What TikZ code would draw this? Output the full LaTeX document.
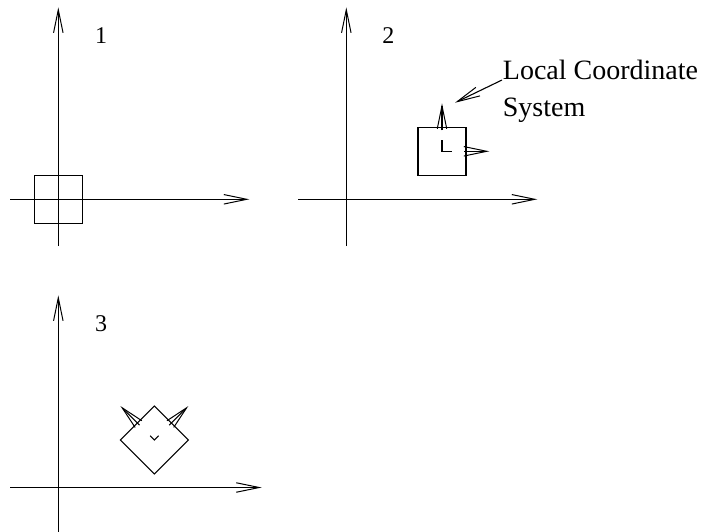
\documentclass[tikz,border=0pt]{standalone}
\usepackage{fontspec}
\setmainfont{Liberation Serif}
\usetikzlibrary{arrows.meta}
\tikzset{
  ln/.style={line width=1.1pt, draw=black},
  arr/.style={ln, -{Straight Barb[length=23pt,width=9.5pt,line width=1pt]}},
  numlbl/.style={font=\fontsize{24}{28}\selectfont, inner sep=0pt, anchor=base},
  notelbl/.style={font=\fontsize{28}{33}\selectfont, inner sep=0pt, anchor=base west},
}
\begin{document}
\begin{tikzpicture}[x=1pt,y=-1pt]
\useasboundingbox (0,0) rectangle (707,531);
% ---------- panel 1 ----------
\coordinate (h1a) at (10,199.3);  \coordinate (h1b) at (249.3,199.3);
\coordinate (v1a) at (58.3,246);  \coordinate (v1b) at (58.3,7.3);
\draw[arr] (h1a) -- (h1b);
\draw[arr] (v1a) -- (v1b);
\draw[ln] (34.2,175.3) rectangle (82.2,223.3);
\node[numlbl] (n1) at (101,43) {1};
% ---------- panel 2 ----------
\coordinate (h2a) at (298,199.3);  \coordinate (h2b) at (537.3,199.3);
\coordinate (v2a) at (346.3,246);  \coordinate (v2b) at (346.3,7.3);
\draw[arr] (h2a) -- (h2b);
\draw[arr] (v2a) -- (v2b);
\node[numlbl] (n2) at (388.3,43.3) {2};
\begin{scope}[shift={(442,151.3)}]
  \draw[ln] (-24,-24) rectangle (24,24);
  \draw[ln] (0,-11) -- (0,0) -- (10,0);
  \coordinate (u2a) at (0,-21); \coordinate (u2b) at (0,-48);
  \coordinate (r2a) at (22,0);  \coordinate (r2b) at (47.3,0);
  \draw[arr] (u2a) -- (u2b);
  \draw[arr] (r2a) -- (r2b);
\end{scope}
\node[notelbl] (lc) at (502.7,79.3) {Local Coordinate};
\node[notelbl] (sys) at (502.7,116) {System};
\coordinate (lcs) at (502,80);
\coordinate (lct) at (455,102.7);
\draw[arr] (lcs) -- (lct);
% ---------- panel 3 ----------
\coordinate (h3a) at (10,487.5);  \coordinate (h3b) at (261.7,487.5);
\coordinate (v3a) at (58.3,534);  \coordinate (v3b) at (58.3,295.3);
\draw[arr] (h3a) -- (h3b);
\draw[arr] (v3a) -- (v3b);
\node[numlbl] (n3) at (101,331.5) {3};
\begin{scope}[shift={(154.4,440)}, rotate=45]
  \draw[ln] (-24,-24) rectangle (24,24);
  \draw[ln] (0,-6) -- (0,0) -- (6,0);
  \coordinate (u3a) at (0,-21); \coordinate (u3b) at (0,-48);
  \coordinate (r3a) at (21,0);  \coordinate (r3b) at (48,0);
  \draw[arr] (u3a) -- (u3b);
  \draw[arr] (r3a) -- (r3b);
\end{scope}
\end{tikzpicture}
\end{document}
